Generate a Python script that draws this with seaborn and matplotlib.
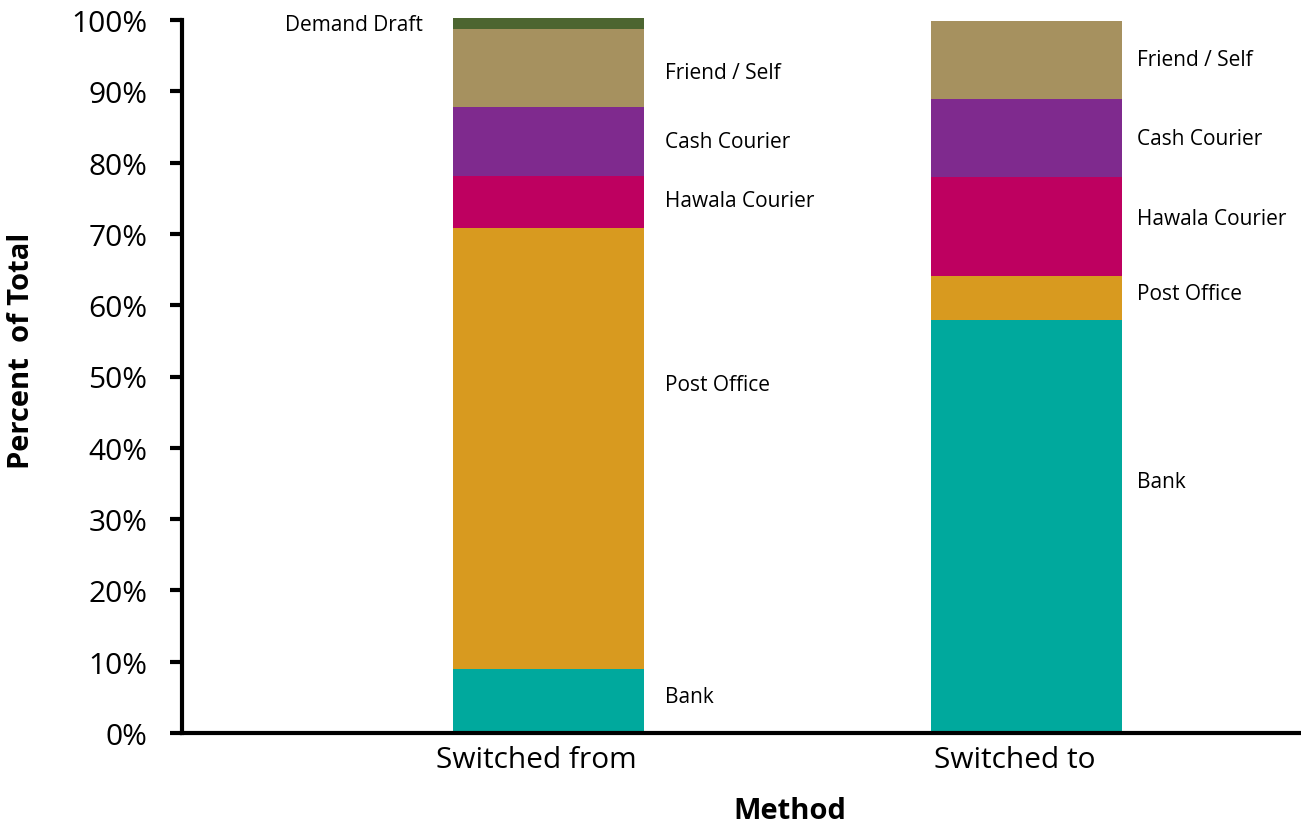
import numpy as np
import pandas as pd
import matplotlib
matplotlib.use("Agg")
import matplotlib.pyplot as plt
import seaborn as sns

# values (percent of total)
methods = ["Switched from", "Switched to"]
categories = ["Bank", "Post Office", "Hawala Courier", "Cash Courier", "Friend / Self", "Demand Draft"]
switched_from = [9.0, 61.8, 7.3, 9.7, 10.9, 1.6]
switched_to = [57.9, 6.2, 13.9, 10.9, 11.0, 0.0]
yticks = [0, 10, 20, 30, 40, 50, 60, 70, 80, 90, 100]

colors = {
    "Bank": "#00A99D",
    "Post Office": "#D89A1F",
    "Hawala Courier": "#BE0060",
    "Cash Courier": "#7F2A8E",
    "Friend / Self": "#A6915F",
    "Demand Draft": "#4C6530",
}

# small vertical nudges for the segment labels (percentage points)
label_nudge = {
    ("Switched from", "Post Office"): 9.0,
    ("Switched from", "Bank"): 0.6,
    ("Switched from", "Hawala Courier"): 0.3,
    ("Switched from", "Friend / Self"): -0.6,
    ("Switched to", "Bank"): 6.3,
    ("Switched to", "Hawala Courier"): 1.1,
    ("Switched to", "Post Office"): 0.6,
}
label_dx = {"Switched from": 0.245, "Switched to": 0.232}

rows = []
for m, vals in zip(methods, [switched_from, switched_to]):
    cum = 0.0
    for c, v in zip(categories, vals):
        rows.append({"method": m, "category": c, "value": v,
                     "bottom": cum, "top": cum + v})
        cum += v
df = pd.DataFrame(rows)

sns.set_style("white")
plt.rcParams["font.family"] = ["Open Sans", "DejaVu Sans"]
plt.rcParams["text.color"] = "black"
plt.rcParams["xtick.color"] = "black"
plt.rcParams["ytick.color"] = "black"

fig = plt.figure(figsize=(13.01, 8.29), dpi=100)
ax = fig.add_axes([0.14, 1 - 734 / 829, 0.86, (734 - 21) / 829])

# stacked bars: draw cumulative tops from the highest segment down
for c in reversed(categories):
    sub = df[df["category"] == c]
    sns.barplot(data=sub, x="method", y="top", order=methods, color=colors[c],
                width=0.4, saturation=1, ax=ax, edgecolor="none", linewidth=0)

for p in ax.patches:
    p.set_clip_on(False)

# segment labels
for _, r in df.iterrows():
    if r["value"] <= 0:
        continue
    xi = methods.index(r["method"])
    y = (r["bottom"] + r["top"]) / 2 + label_nudge.get((r["method"], r["category"]), 0)
    if r["category"] == "Demand Draft":
        ax.text(xi - 0.262, y - 0.1, r["category"], ha="right", va="center", fontsize=15)
    else:
        ax.text(xi + label_dx[r["method"]], y, r["category"], ha="left", va="center", fontsize=15)

ax.set_ylim(0, 100)
ax.set_xlim(-0.766, 1.575)
ax.set_yticks(yticks)
ax.set_yticklabels([f"{t}%" for t in yticks], fontsize=21.5)
ax.tick_params(axis="y", direction="out", length=9, width=3, pad=16, left=True)
ax.tick_params(axis="x", length=0, pad=9, labelsize=21.5)
# category labels sit a touch left of the bar centres in the original
ax.set_xticks([-0.025, 0.977])
ax.set_xticklabels(methods)

for s in ["top", "right"]:
    ax.spines[s].set_visible(False)
for s in ["left", "bottom"]:
    ax.spines[s].set_linewidth(3)
    ax.spines[s].set_color("black")

ax.set_xlabel("")
ax.set_ylabel("")
fig.text(22 / 1301, 1 - 351 / 829, "Percent  of Total", rotation=90, ha="center", va="center",
         fontsize=21, fontweight="bold")
fig.text(790 / 1301, 1 - 812 / 829, "Method", ha="center", va="center",
         fontsize=21, fontweight="bold")

fig.savefig("out.png", dpi=100)
